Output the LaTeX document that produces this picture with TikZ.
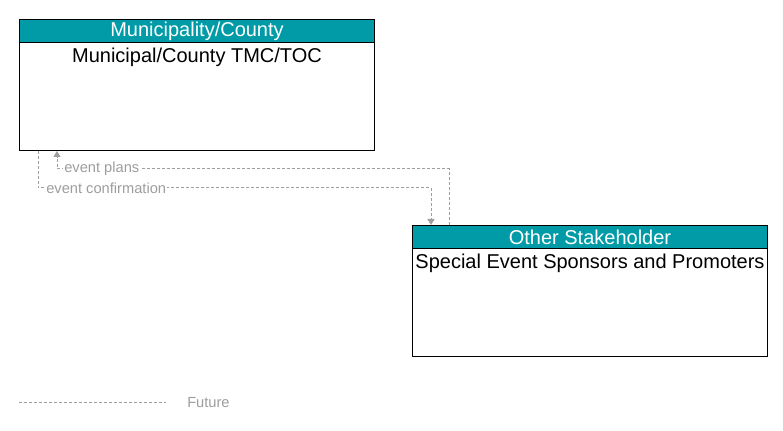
\documentclass[tikz,border=0pt]{standalone}
\usepackage{fontspec}
\setmainfont{Liberation Sans}
\usetikzlibrary{positioning,arrows.meta}
\definecolor{headteal}{HTML}{009BA6}
\definecolor{flowgray}{HTML}{9E9E9E}
\tikzset{
    elembox/.style = {draw=black, line width=0.75pt, minimum width=266.25pt,
        minimum height=98.25pt, inner sep=0pt, anchor=north west},
    elemhead/.style = {draw=black, line width=0.75pt, fill=headteal, text=white,
        font=\fontsize{15}{18}\selectfont, minimum width=266.25pt,
        minimum height=17.25pt, inner sep=0pt, anchor=north},
    elemtext/.style = {font=\fontsize{15}{18}\selectfont, inner sep=0pt},
    flow/.style = {draw=flowgray, line width=0.75pt, dash pattern=on 2.25pt off 1.5pt,
        -{Triangle[width=5.25pt,length=4.5pt]}},
    flowlabel/.style = {text=flowgray, fill=white, inner sep=0.75pt,
        font=\fontsize{11}{13}\selectfont}
}
\begin{document}
\begin{tikzpicture}[x=0.75pt,y=-0.75pt]
        \useasboundingbox (0,0) rectangle (783,431);
        % elements
        \node[elembox] (tmc) at (19,19) {};
        \node[elemhead] (tmchead) at (tmc.north) {Municipality/County};
        \node[elemtext, below=3.75pt of tmchead] (tmcname) {Municipal/County TMC/TOC};

        \node[elembox] (sponsor) at (412,225) {};
        \node[elemhead] (sponsorhead) at (sponsor.north) {Other Stakeholder};
        \node[elemtext, below=3.75pt of sponsorhead] (sponsorname) {Special Event Sponsors and Promoters};

        % flows
        \coordinate (plansbend) at (57,169);
        \coordinate (confbend) at (38,188);
        \draw[flow] ([xshift=27.75pt]sponsor.north west) |- (plansbend)
            -- ([xshift=28.5pt]tmc.south west);
        \node[flowlabel, right=4.5pt of plansbend] (planslbl) {event plans};
        \draw[flow] ([xshift=14.25pt]tmc.south west) -- (confbend)
            -| ([xshift=14.25pt]sponsor.north west);
        \node[flowlabel, right=5.25pt of confbend] (conflbl) {event confirmation};

        % legend
        \coordinate (legstart) at (19,403);
        \coordinate (legend) at (166,403);
        \draw[flow, -] (legstart) -- (legend);
        \node[flowlabel, right=15pt of legend] (futurelbl) {Future};
\end{tikzpicture}
\end{document}
